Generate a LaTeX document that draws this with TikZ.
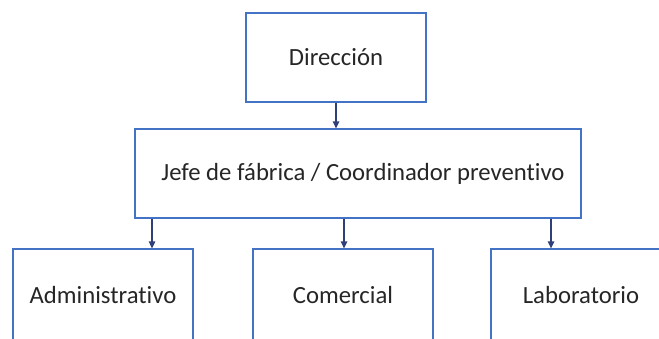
\documentclass[tikz,border=0pt]{standalone}
\usepackage{fontspec}
\setmainfont[Ligatures={NoCommon},RawFeature={-liga;-clig;-calt;-dlig}]{Carlito}
\usetikzlibrary{arrows.meta,calc}
\definecolor{boxblue}{RGB}{68,114,196}
\definecolor{arrowblue}{RGB}{47,64,120}
\definecolor{textgray}{RGB}{38,38,38}
\begin{document}
\begin{tikzpicture}[x=1bp,y=-1bp,
  box/.style={draw=boxblue,line width=1.3bp,rectangle,inner sep=0pt,fill=white,
    font=\fontsize{24.8}{29}\selectfont,text=textgray},
  arr/.style={draw=arrowblue,line width=1.3bp,-{Triangle[length=7bp,width=6.5bp]}}]
\useasboundingbox (0,0) rectangle (659,338);
\clip (0,0) rectangle (659,338);
\node[box,minimum width=180bp,minimum height=89bp] (dir) at (336,57.5) {Dirección};
\node[box,minimum width=446bp,minimum height=89bp] (jefe) at (358,173.5) {\hspace*{10bp}Jefe de fábrica / Coordinador preventivo};
\node[box,minimum width=180bp,minimum height=92bp] (adm) at (103,295) {Administrativo};
\node[box,minimum width=180bp,minimum height=92bp] (com) at (343,295) {Comercial};
\node[box,minimum width=180bp,minimum height=92bp] (lab) at (581,295) {Laboratorio};
\path ($(adm.north)+(49,0)$) coordinate (a1);
\path ($(com.north)+(1,0)$) coordinate (a2);
\path ($(lab.north)+(-30,0)$) coordinate (a3);
\draw[arr] (dir.south) -- (dir.south |- jefe.north);
\draw[arr] (jefe.south -| a1) -- (adm.north -| a1);
\draw[arr] (jefe.south -| a2) -- (com.north -| a2);
\draw[arr] (jefe.south -| a3) -- (lab.north -| a3);
\end{tikzpicture}
\end{document}
